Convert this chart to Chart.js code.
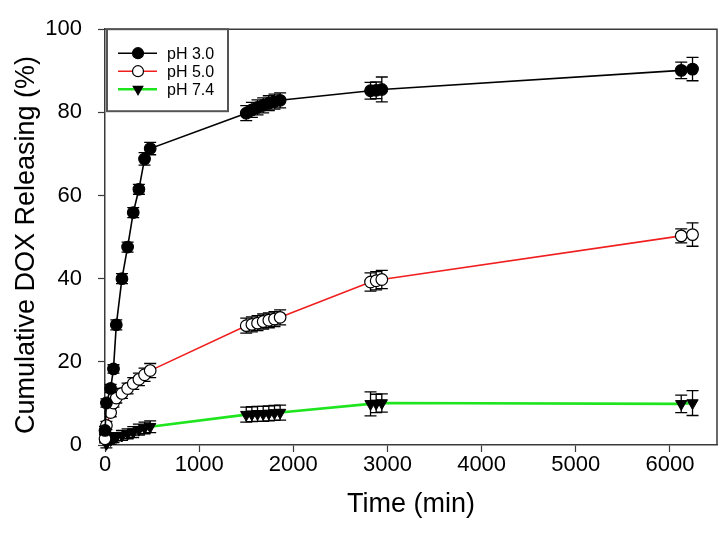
<!DOCTYPE html>
<html>
<head>
<meta charset="utf-8">
<script src="https://cdn.jsdelivr.net/npm/chart.js@4/dist/chart.umd.min.js"></script>
<style>
  html, body { margin: 0; padding: 0; background: #fff; }
  #wrap { width: 728px; height: 533px; }
</style>
</head>
<body>
<div id="wrap"><canvas id="myCanvas"></canvas></div>
<script>
// release time points (min), same sampling for all three buffers
const times = [0, 15, 60, 90, 120, 180, 240, 300, 360, 420, 480,
  1500, 1560, 1620, 1680, 1740, 1800, 1860, 2820, 2880, 2940, 6120, 6240];

const ph30 = [3.5, 10.1, 13.6, 18.3, 28.9, 40.0, 47.6, 55.9, 61.5, 68.8, 71.3,
  79.8, 80.6, 81.2, 81.7, 82.2, 82.6, 82.9, 85.2, 85.3, 85.5, 90.1, 90.4];
const ph50 = [1.5, 4.7, 7.8, 10.1, 11.3, 12.4, 13.6, 14.8, 15.8, 16.9, 17.9,
  28.7, 29.0, 29.3, 29.7, 30.0, 30.3, 30.7, 39.2, 39.5, 39.8, 50.3, 50.6];
const ph74 = [1.9, 0.3, 1.2, 1.6, 2.0, 2.3, 2.7, 3.1, 3.7, 4.1, 4.4,
  7.3, 7.4, 7.5, 7.5, 7.6, 7.7, 7.8, 9.9, 10.0, 10.1, 9.9, 10.1];

// standard deviations (error bars)
const err30 = [1, 1, 1, 1, 1.2, 1.2, 1.2, 1.2, 1.2, 1.5, 1.5,
  1.8, 1.8, 1.8, 1.8, 1.8, 1.8, 1.8, 2, 2, 3, 2, 2.8];
const err50 = [1, 1, 1, 1, 1.2, 1.2, 1.3, 1.4, 1.5, 1.6, 1.7,
  1.8, 1.8, 1.8, 1.8, 1.8, 1.8, 1.8, 2.2, 2.2, 2.2, 1.7, 2.8];
const err74 = [1, 1, 1, 1, 1, 1.2, 1.2, 1.3, 1.3, 1.4, 1.4,
  1.8, 1.8, 1.8, 1.8, 1.8, 1.8, 1.8, 2.9, 2.2, 2.2, 2.1, 3.0];

const seriesNames = ["pH 3.0", "pH 5.0", "pH 7.4"];
const xTicks = [0, 1000, 2000, 3000, 4000, 5000, 6000];
const yTicks = [0, 20, 40, 60, 80, 100];
const xTitle = "Time (min)";
const yTitle = "Cumulative DOX Releasing (%)";

const FONT = "'Liberation Sans', Arial, sans-serif";
const AXIS = "#3a3a3a";

function toPoints(vals) {
  return times.map((t, i) => ({ x: t, y: vals[i] }));
}

// error bars drawn with the chart's own scales, under the markers
const errorBars = {
  id: "errorBars",
  beforeDatasetsDraw(chart) {
    const ctx = chart.ctx;
    const xs = chart.scales.x, ys = chart.scales.y;
    ctx.save();
    ctx.strokeStyle = "#000";
    ctx.lineWidth = 1.3;
    chart.data.datasets.forEach(ds => {
      ds.data.forEach((p, i) => {
        const e = ds.errors[i];
        const px = xs.getPixelForValue(p.x);
        const top = ys.getPixelForValue(p.y + e);
        const bot = ys.getPixelForValue(p.y - e);
        ctx.beginPath();
        ctx.moveTo(px, top); ctx.lineTo(px, bot);
        ctx.moveTo(px - 6, top); ctx.lineTo(px + 6, top);
        ctx.moveTo(px - 6, bot); ctx.lineTo(px + 6, bot);
        ctx.stroke();
      });
    });
    ctx.restore();
  }
};

// frame, y title and the boxed legend
const frame = {
  id: "frame",
  afterDraw(chart) {
    const ctx = chart.ctx;
    const a = chart.chartArea;
    ctx.save();
    ctx.strokeStyle = AXIS;
    ctx.lineWidth = 1.5;
    ctx.beginPath();
    ctx.moveTo(a.left, a.top); ctx.lineTo(a.right, a.top); ctx.lineTo(a.right, a.bottom);
    ctx.stroke();

    // y title
    ctx.fillStyle = "#000";
    ctx.font = "27px " + FONT;
    ctx.textAlign = "center";
    ctx.textBaseline = "middle";
    ctx.translate(27, 245);
    ctx.rotate(-Math.PI / 2);
    ctx.fillText(yTitle, 0, 0);
    ctx.restore();

    // legend
    ctx.save();
    const bx = a.left + 2, by = a.top, bw = 121, bh = 82;
    ctx.fillStyle = "#fff";
    ctx.fillRect(bx, by, bw, bh);
    ctx.strokeStyle = "#555";
    ctx.lineWidth = 2;
    ctx.strokeRect(bx, by, bw, bh);
    chart.data.datasets.forEach((ds, i) => {
      const cy = by + 24 + i * 18;
      ctx.strokeStyle = ds.borderColor;
      ctx.lineWidth = ds.borderWidth;
      ctx.beginPath();
      ctx.moveTo(bx + 11, cy); ctx.lineTo(bx + 50, cy);
      ctx.stroke();
      ctx.fillStyle = ds.pointBackgroundColor;
      ctx.strokeStyle = "#000";
      ctx.lineWidth = 1.2;
      Chart.helpers.drawPoint(ctx, {
        pointStyle: ds.pointStyle, rotation: ds.pointRotation || 0,
        radius: 5.5, borderWidth: 1.2
      }, bx + 31, cy);
      ctx.fillStyle = "#000";
      ctx.font = "16px " + FONT;
      ctx.textAlign = "left";
      ctx.textBaseline = "middle";
      ctx.fillText(ds.label, bx + 60, cy + 1);
    });
    ctx.restore();
  }
};

const config = {
  type: "scatter",
  data: {
    datasets: [
      {
        label: seriesNames[0], data: toPoints(ph30), errors: err30,
        showLine: true, borderColor: "#000", borderWidth: 1.6,
        pointStyle: "circle", pointRadius: 5.8,
        pointBackgroundColor: "#000", pointBorderColor: "#000", pointBorderWidth: 1.2,
        clip: false
      },
      {
        label: seriesNames[1], data: toPoints(ph50), errors: err50,
        showLine: true, borderColor: "#f01e1e", borderWidth: 1.6,
        pointStyle: "circle", pointRadius: 5.8,
        pointBackgroundColor: "#fff", pointBorderColor: "#000", pointBorderWidth: 1.2,
        clip: false
      },
      {
        label: seriesNames[2], data: toPoints(ph74), errors: err74,
        showLine: true, borderColor: "#1ee51e", borderWidth: 2.6,
        pointStyle: "triangle", pointRotation: 180, pointRadius: 6.5,
        pointBackgroundColor: "#000", pointBorderColor: "#000", pointBorderWidth: 1,
        clip: false
      }
    ]
  },
  options: {
    responsive: false,
    animation: false,
    layout: { padding: { top: 16, right: 11, left: 0, bottom: 0 } },
    plugins: { legend: { display: false }, tooltip: { enabled: false } },
    scales: {
      x: {
        type: "linear", min: 0, max: 6500,
        afterBuildTicks: s => { s.ticks = xTicks.map(v => ({ value: v })); },
        afterFit: s => { s.height = 88; },
        grid: { drawOnChartArea: false, drawTicks: true, tickLength: 7, tickColor: AXIS, tickWidth: 1.2 },
        border: { display: true, color: AXIS, width: 1.5 },
        ticks: { color: "#000", font: { family: FONT, size: 22 }, padding: 0, maxRotation: 0,
          callback: v => String(v) },
        title: { display: true, text: xTitle, color: "#000", font: { family: FONT, size: 27 }, padding: { top: 0, bottom: 12 } }
      },
      y: {
        type: "linear", min: 0, max: 100,
        afterBuildTicks: s => { s.ticks = yTicks.map(v => ({ value: v })); },
        afterFit: s => { s.width = 105; },
        grid: { drawOnChartArea: false, drawTicks: true, tickLength: 7, tickColor: AXIS, tickWidth: 1.2 },
        border: { display: true, color: AXIS, width: 1.5 },
        ticks: { color: "#000", font: { family: FONT, size: 22 }, padding: 16,
          callback: v => String(v) }
      }
    }
  },
  plugins: [errorBars, frame]
};

const canvas = document.getElementById("myCanvas");
canvas.width = 728;
canvas.height = 533;
new Chart(canvas, config);
</script>
</body>
</html>
